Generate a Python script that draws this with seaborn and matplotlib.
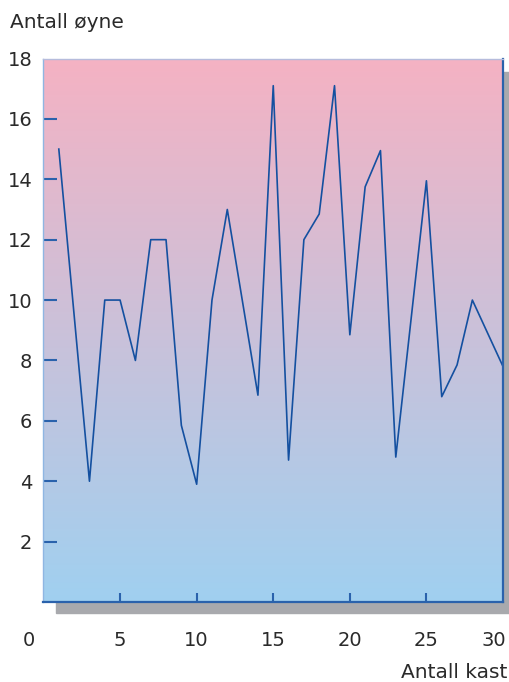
import numpy as np
import pandas as pd
import seaborn as sns
import matplotlib.pyplot as plt
import matplotlib.transforms as mtransforms
from matplotlib.colors import LinearSegmentedColormap
from matplotlib.patches import Rectangle

# --- data ---
kast = [1, 3, 4, 5, 6, 7, 8, 9, 10, 11, 12, 14, 15, 16, 17, 18, 19, 20, 21, 22, 23, 25, 26, 27, 28, 30]
oyne = [15, 4, 10, 10, 8, 12, 12, 5.85, 3.9, 10, 13, 6.85, 17.1, 4.7, 12, 12.85, 17.1, 8.85, 13.75, 14.95, 4.8, 13.95, 6.8, 7.85, 10, 7.8]
x_ticks = [0, 5, 10, 15, 20, 25, 30]
y_ticks = [2, 4, 6, 8, 10, 12, 14, 16, 18]

df = pd.DataFrame({"kast": kast, "oyne": oyne})

plt.rcParams['font.family'] = ['DejaVu Sans']
W, H = 510, 682
fig = plt.figure(figsize=(W / 100, H / 100), dpi=100)
ax = fig.add_axes([43.5 / W, 1 - 602 / H, (503 - 43.5) / W, (602 - 58.5) / H])

# grey drop shadow behind the plot box
shadow = Rectangle((56 / W, 1 - 613 / H), (514 - 56) / W, (613 - 72) / H,
                   transform=fig.transFigure, color='#a8a9ad', zorder=-1)
fig.patches.append(shadow)

# pink -> blue gradient background
cmap = LinearSegmentedColormap.from_list('bg', ['#a0d0f0', '#f5b2c3'])
grad = np.linspace(0, 1, 256).reshape(-1, 1)
ax.imshow(grad, extent=[0, 30, 0, 18], origin='lower', cmap=cmap, aspect='auto', zorder=0)

sns.lineplot(data=df, x='kast', y='oyne', ax=ax, color='#1450a0', linewidth=1.2)

ax.set_xlim(0, 30)
ax.set_ylim(0, 18)
ax.set_xlabel('')
ax.set_ylabel('')
ax.set_xticks(x_ticks)
ax.set_yticks(y_ticks)
ax.set_xticklabels([str(v) for v in x_ticks])
ax.set_yticklabels([str(v) for v in y_ticks])

tick_col = '#2a62ac'
ax.tick_params(axis='y', direction='in', length=10, width=1.5, color=tick_col,
               pad=8, labelsize=14, labelcolor='#2a2a2a')
ax.tick_params(axis='x', direction='in', length=6.5, width=1.5, color=tick_col,
               pad=21, labelsize=14, labelcolor='#2a2a2a')
ax.xaxis.get_major_ticks()[0].tick1line.set_visible(False)
ax.xaxis.get_major_ticks()[-1].tick1line.set_visible(False)
ax.yaxis.get_major_ticks()[-1].tick1line.set_visible(False)

ax.spines['left'].set_color('#8fb6e2')
ax.spines['top'].set_color('#b6bcdc')
ax.spines['bottom'].set_color(tick_col)
ax.spines['right'].set_color(tick_col)
ax.spines['bottom'].set_linewidth(1.6)
ax.spines['right'].set_linewidth(1.6)
ax.spines['left'].set_linewidth(1.0)
ax.spines['top'].set_linewidth(1.0)

fig.text(10 / W, 1 - 22 / H, 'Antall øyne', fontsize=14.5, color='#2a2a2a', ha='left', va='center')
fig.text(507 / W, 1 - 673 / H, 'Antall kast', fontsize=14.5, color='#2a2a2a', ha='right', va='center')

# origin label sits left of the axis corner, last label pulled in from the edge
lab0 = ax.get_xticklabels()[0]
lab0.set_transform(lab0.get_transform() + mtransforms.ScaledTranslation(-0.15, 0, fig.dpi_scale_trans))
lab30 = ax.get_xticklabels()[-1]
lab30.set_transform(lab30.get_transform() + mtransforms.ScaledTranslation(-0.09, 0, fig.dpi_scale_trans))

fig.savefig('out.png', dpi=100)
